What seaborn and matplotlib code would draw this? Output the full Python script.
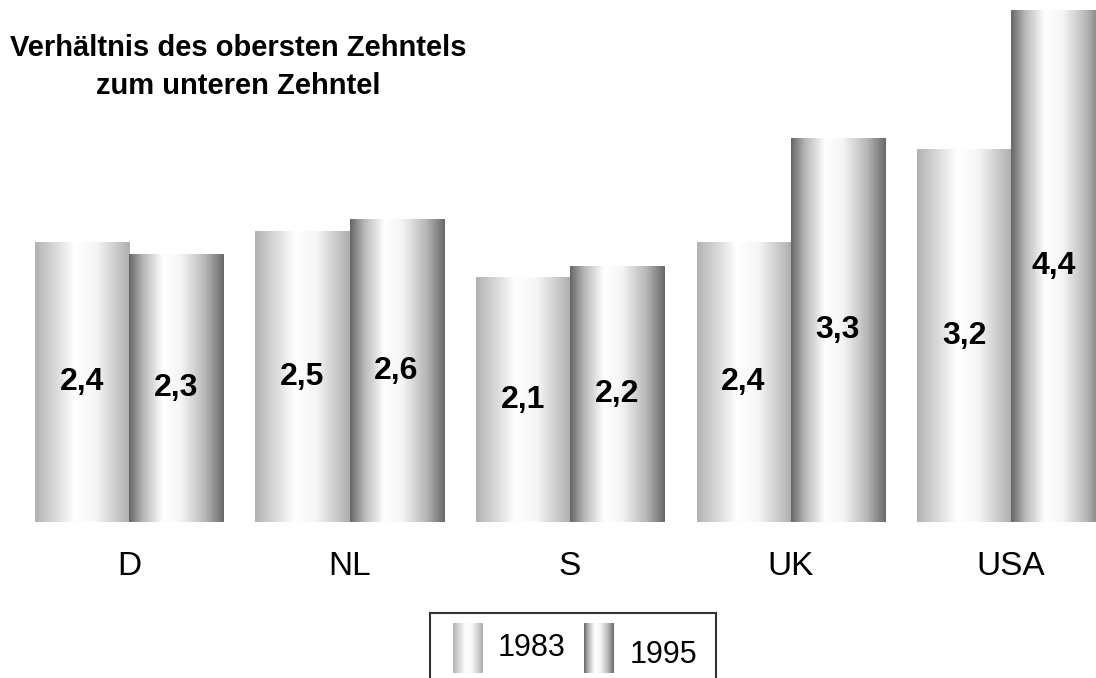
import numpy as np
import pandas as pd
import seaborn as sns
import matplotlib.pyplot as plt
from matplotlib.colors import LinearSegmentedColormap

# ----------------------------------------------------------------------------
# data
# ----------------------------------------------------------------------------
countries = ["D", "NL", "S", "UK", "USA"]
years = ["1983", "1995"]
values_1983 = [2.4, 2.5, 2.1, 2.4, 3.2]
values_1995 = [2.3, 2.6, 2.2, 3.3, 4.4]
title = "Verhältnis des obersten Zehntels\nzum unteren Zehntel"

df = pd.DataFrame({
    "country": countries * 2,
    "year": [years[0]] * len(countries) + [years[1]] * len(countries),
    "value": values_1983 + values_1995,
})

# ----------------------------------------------------------------------------
# style
# ----------------------------------------------------------------------------
sns.set_style("white")
plt.rcParams["font.family"] = ["Liberation Sans", "DejaVu Sans"]
plt.rcParams["text.color"] = "black"
plt.rcParams["xtick.color"] = "black"

# cylinder-like gray gradients for both series
cmaps = {
    "1983": LinearSegmentedColormap.from_list("g83", [
        (0.0, (0.70, 0.70, 0.70)), (0.2, (0.84, 0.84, 0.84)),
        (0.42, (1.0, 1.0, 1.0)), (0.65, (0.96, 0.96, 0.96)),
        (0.85, (0.80, 0.80, 0.80)), (1.0, (0.68, 0.68, 0.68))]),
    "1995": LinearSegmentedColormap.from_list("g95", [
        (0.0, (0.40, 0.40, 0.40)), (0.15, (0.72, 0.72, 0.72)),
        (0.36, (1.0, 1.0, 1.0)), (0.55, (0.96, 0.96, 0.96)),
        (0.8, (0.72, 0.72, 0.72)), (1.0, (0.41, 0.41, 0.41))]),
}
grad = np.linspace(0, 1, 256).reshape(1, -1)

# ----------------------------------------------------------------------------
# plot
# ----------------------------------------------------------------------------
fig = plt.figure(figsize=(10.96, 6.78), dpi=100)
ax = fig.add_axes([0, 156 / 678, 1, 522 / 678])

sns.barplot(data=df, x="country", y="value", hue="year", ax=ax,
            width=0.853, gap=0, legend=False, color="white")

for year, container in zip(years, ax.containers):
    for bar in container:
        x, w, h = bar.get_x(), bar.get_width(), bar.get_height()
        bar.set_facecolor("none")
        bar.set_edgecolor("none")
        ax.imshow(grad, extent=[x, x + w, 0, h], cmap=cmaps[year],
                  aspect="auto", clip_path=bar, zorder=1)
    labels = [f"{v:.1f}".replace(".", ",") for v in container.datavalues]
    ax.bar_label(container, labels=labels, label_type="center",
                 fontsize=23, fontweight="bold", color="black", zorder=3)

ax.set_xlim(-0.585, 4.385)
ax.set_ylim(0, 4.488)
ax.set_xlabel("")
ax.set_ylabel("")
ax.set_yticks([])
ax.tick_params(axis="x", length=0, pad=21, labelsize=24, labelcolor="black")
sns.despine(ax=ax, left=True, bottom=True)

fig.text(238 / 1096, 1 - 67 / 678, title, ha="center", va="center",
         fontsize=21, fontweight="bold", linespacing=1.42, color="black")

# ----------------------------------------------------------------------------
# legend (box runs off the bottom edge like the original)
# ----------------------------------------------------------------------------
lax = fig.add_axes([430 / 1096, 0, 286 / 1096, 65 / 678])
lax.set_xticks([])
lax.set_yticks([])
lax.set_facecolor("none")
for side in ["left", "right", "top"]:
    lax.spines[side].set_color("#333333")
    lax.spines[side].set_linewidth(1.5)
lax.spines["bottom"].set_visible(False)

swatches = [(23, 10, 60, 30), (154, 10, 60, 30)]
label_pos = [(68, 35), (200, 42)]
for year, (x0, y0, y1, w), (tx, ty) in zip(years, swatches, label_pos):
    lax.imshow(grad, extent=[x0, x0 + w, y1, y0], cmap=cmaps[year], aspect="auto")
    lax.text(tx, ty, year, ha="left", va="center", fontsize=22)
lax.set_xlim(0, 286)
lax.set_ylim(65, 0)

fig.savefig("out.png", dpi=100)
